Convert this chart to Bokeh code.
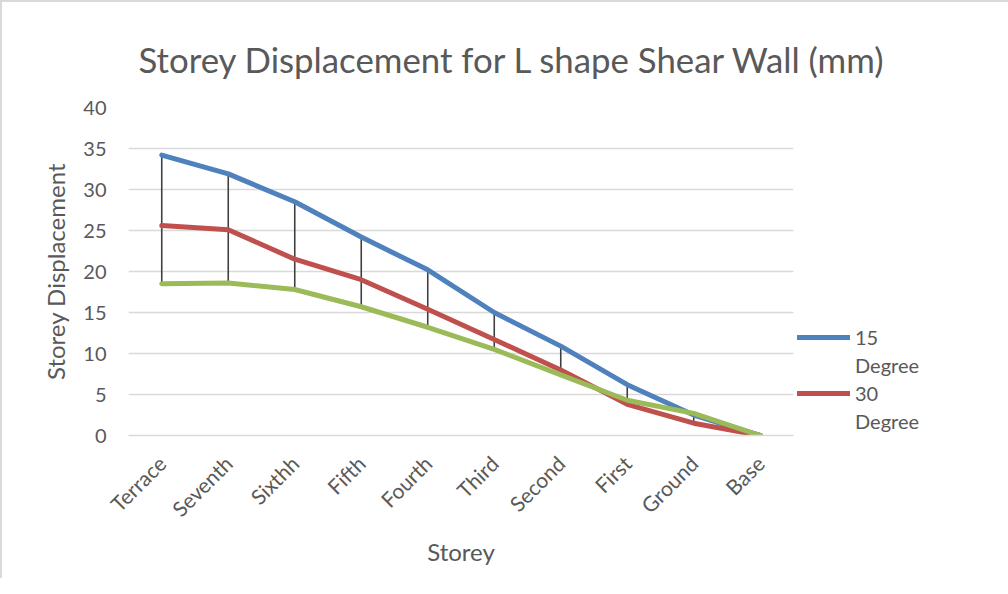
from bokeh.plotting import figure
from bokeh.models import Legend, LegendItem, Title
from bokeh.embed import file_html
from bokeh.resources import INLINE

categories = ["Terrace", "Seventh", "Sixthh", "Fifth", "Fourth", "Third", "Second", "First", "Ground", "Base"]
deg15 = [34.2, 31.9, 28.5, 24.2, 20.2, 15.0, 10.9, 6.2, 2.5, 0.0]
deg30 = [25.6, 25.1, 21.5, 19.0, 15.4, 11.7, 8.0, 3.8, 1.5, 0.0]
deg45 = [18.5, 18.6, 17.8, 15.7, 13.2, 10.5, 7.4, 4.3, 2.7, 0.0]
y_ticks = [0, 5, 10, 15, 20, 25, 30, 35, 40]

FONT = "Lato"
GREY = "#595959"

p = figure(x_range=categories, y_range=(0, 40), frame_width=665, frame_height=328,
           output_backend="svg", toolbar_location=None,
           min_border_left=126, min_border_top=105, min_border_bottom=143,
           min_border_right=190)
p.title = Title(text="Storey Displacement for L shape Shear Wall (mm)", align="left",
                offset=10, standoff=56, text_font=FONT, text_font_size="34.8px",
                text_font_style="normal", text_color=GREY)
p.outline_line_color = None
p.background_fill_color = "white"
p.border_fill_color = "white"

highs = [max(a, b, c) for a, b, c in zip(deg15, deg30, deg45)]
lows = [min(a, b, c) for a, b, c in zip(deg15, deg30, deg45)]
p.segment(x0=categories, y0=lows, x1=categories, y1=highs, line_color="#404040", line_width=1.6)

r15 = p.line(categories, deg15, line_color="#4F81BD", line_width=5, line_join="round", line_cap="round")
r30 = p.line(categories, deg30, line_color="#C0504D", line_width=5, line_join="round", line_cap="round")
r45 = p.line(categories, deg45, line_color="#9BBB59", line_width=5, line_join="round", line_cap="round")
blank = p.line([], [], line_alpha=0)

p.ygrid.grid_line_color = "#d9d9d9"
p.ygrid.grid_line_width = 1.5
p.xgrid.grid_line_color = None
p.yaxis.ticker = y_ticks
p.yaxis.axis_line_color = None
p.yaxis.major_tick_line_color = None
p.yaxis.minor_tick_line_color = None
p.yaxis.major_label_text_font = FONT
p.yaxis.major_label_text_font_size = "20px"
p.yaxis.major_label_text_color = GREY
p.yaxis.major_label_standoff = 16
p.yaxis.axis_label = "Storey Displacement"
p.yaxis.axis_label_text_font = FONT
p.yaxis.axis_label_text_font_size = "24px"
p.yaxis.axis_label_text_font_style = "normal"
p.yaxis.axis_label_text_color = GREY
p.yaxis.axis_label_standoff = 10

p.xaxis.axis_line_color = "#d9d9d9"
p.xaxis.axis_line_width = 1.5
p.xaxis.major_tick_line_color = None
p.xaxis.minor_tick_line_color = None
p.xaxis.major_label_orientation = 0.785
p.xaxis.major_label_text_font = FONT
p.xaxis.major_label_text_font_size = "21px"
p.xaxis.major_label_text_color = GREY
p.xaxis.major_label_standoff = 18
p.xaxis.axis_label = "Storey"
p.xaxis.axis_label_text_font = FONT
p.xaxis.axis_label_text_font_size = "24px"
p.xaxis.axis_label_text_font_style = "normal"
p.xaxis.axis_label_text_color = GREY
p.xaxis.axis_label_standoff = 4

legend = Legend(items=[LegendItem(label="15", renderers=[r15]),
                       LegendItem(label="Degree", renderers=[blank]),
                       LegendItem(label="30", renderers=[r30]),
                       LegendItem(label="Degree", renderers=[blank])],
                location=(4, 0), border_line_color=None, background_fill_alpha=0,
                label_text_font=FONT, label_text_font_size="20px", label_text_color=GREY,
                glyph_width=53, glyph_height=28, label_height=28, margin=0, padding=0,
                spacing=0, label_standoff=5)
p.add_layout(legend, "right")

p.styles = {"border-left": "2px solid #d9d9d9", "border-top": "2px solid #d9d9d9"}

open("out.html", "w").write(file_html(p, INLINE))
